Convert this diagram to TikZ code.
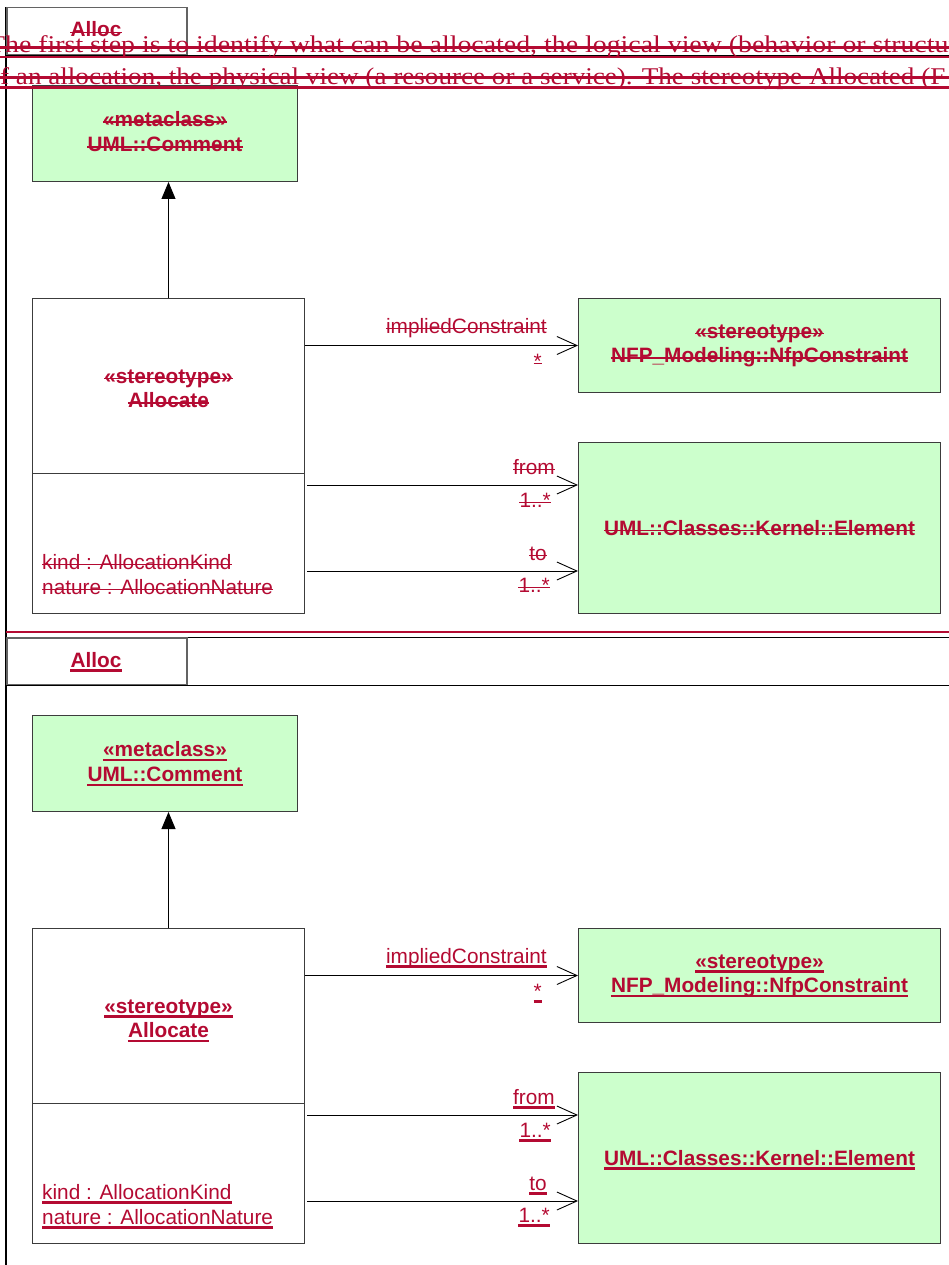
\documentclass[tikz,border=0pt]{standalone}
\usepackage{fontspec}
\setmainfont{Liberation Serif}
\setsansfont{Liberation Sans}
\newfontfamily\parafont{Liberation Serif}[FakeStretch=1.13]
\newfontfamily\parafontw{Liberation Serif}[FakeStretch=1.16]
\usetikzlibrary{arrows.meta,calc}
\definecolor{trk}{RGB}{180,10,50}
\definecolor{umlg}{RGB}{204,255,204}
\definecolor{bgray}{RGB}{60,60,60}
\newcommand\dfont{\sffamily\fontsize{20.8}{25}\selectfont}
\begin{document}
\begin{tikzpicture}[x=1pt,y=-1pt,
  mkdel/.style={append after command={([yshift=4.5pt]\tikzlastnode.base west)
     edge[trk, line width=1.3pt] ([yshift=4.5pt]\tikzlastnode.base east)}},
  mkins/.style={append after command={([yshift=-3.5pt]\tikzlastnode.base west)
     edge[trk, line width=2.5pt] ([yshift=-3.5pt]\tikzlastnode.base east)}},
  box/.style={draw=bgray, line width=1pt, fill=umlg, inner sep=0pt, anchor=north west},
  cls/.style={box, fill=white},
  btxt/.style={inner sep=0pt, anchor=base, text=trk, font=\dfont\bfseries, trkmk},
  lbl/.style={inner sep=0pt, anchor=base east, text=trk, font=\dfont, trkmk},
  attr/.style={inner sep=0pt, anchor=base west, text=trk, font=\dfont, trkmk},
  tabbox/.style={draw=bgray!80, line width=1.5pt, inner sep=0pt, anchor=north west,
    minimum width=180pt, minimum height=47pt},
  assoc/.style={line width=0.9pt, -{Straight Barb[length=20pt,width=18pt,line width=0.9pt]}},
  gen/.style={line width=0.9pt, -{Triangle[length=17pt,width=14pt]}},
  para/.style={anchor=base west, inner sep=0pt, text=trk, font=\parafont\fontsize{24}{24}\selectfont},
  redline/.style={trk, line width=2.2pt}]
\useasboundingbox (0,0) rectangle (949,1265);
\fill[white] (0,0) rectangle (949,1265);
% left frame line
\draw[line width=2pt] (6,7) -- (6,1265);
% separator between sections
\draw[trk, line width=2.5pt] (6,632) -- (949,632);
\draw[line width=0.8pt] (6,637) -- (949,637);
\foreach \off/\pf in {0/t, 630/b}{
 \ifnum\off=0 \tikzset{trkmk/.style={mkdel}}\else\tikzset{trkmk/.style={mkins}}\fi
 \begin{scope}[shift={(0,\off)}]
  \node[tabbox] (\pf tab) at (6,7) {};
  \node[btxt] (\pf tabt) at (96,37) {Alloc};
  \coordinate (\pf fe) at (949,54);
  \draw[line width=1.6pt] (\pf tab.south west) -- (\pf tab.south west -| \pf fe);
  % metaclass
  \node[box, minimum width=265pt, minimum height=96pt] (\pf cmt) at (32,85) {};
  \node[btxt] (\pf cmt1) at ($(\pf cmt.center)+(0,-7)$) {«metaclass»\ };
  \node[btxt] (\pf cmt2) at ($(\pf cmt.center)+(0,18)$) {UML::Comment};
  % stereotype Allocate
  \node[cls, minimum width=272pt, minimum height=175pt] (\pf alc) at (32,298) {};
  \node[btxt] (\pf alc1) at ($(\pf alc.center)+(0,-3)$) {«stereotype»\ };
  \node[btxt] (\pf alc2) at ($(\pf alc.center)+(0,21.5)$) {Allocate};
  \node[cls, minimum width=272pt, minimum height=140pt] (\pf att) at (32,473) {};
  \node[attr] (\pf a1) at (42,569) {kind : AllocationKind\ };
  \node[attr] (\pf a2) at (42,594) {nature : AllocationNature};
  % NFP constraint
  \node[box, minimum width=362pt, minimum height=94pt] (\pf nfp) at (578,298) {};
  \node[btxt] (\pf nfp1) at ($(\pf nfp.center)+(0,-7.5)$) {«stereotype»\ };
  \node[btxt] (\pf nfp2) at ($(\pf nfp.center)+(0,17)$) {NFP\_Modeling::NfpConstraint};
  % Element
  \node[box, minimum width=362pt, minimum height=171pt] (\pf elm) at (578,442) {};
  \node[btxt] (\pf elm1) at ($(\pf elm.center)+(0,7)$) {UML::Classes::Kernel::Element};
  % connectors
  \draw[gen] (\pf alc.north) -- (\pf alc.north |- \pf cmt.south);
  \draw[assoc] (\pf nfp.west -| \pf alc.east) -- (\pf nfp.west);
  \coordinate (\pf fr) at (578,485);
  \coordinate (\pf to) at (578,571);
  \draw[assoc] ([xshift=2pt]\pf fr -| \pf att.east) -- (\pf fr);
  \draw[assoc] ([xshift=2pt]\pf to -| \pf att.east) -- (\pf to);
  \node[lbl] (\pf l1) at (547,333) {impliedConstraint};
  \node[lbl] (\pf l2) at (542,368) {*};
  \node[lbl] (\pf l3) at (555,474) {from};
  \node[lbl] (\pf l4) at (551,507) {1..*};
  \node[lbl] (\pf l5) at (547,560) {to};
  \node[lbl] (\pf l6) at (550,592) {1..*};
 \end{scope}
}
% overlaid paragraph (tracked change)
\node[para, font=\parafontw\fontsize{24}{24}\selectfont] (p1) at (-12,53)
  {The first step is to identify what can be allocated, the logical view (behavior or structur};
\node[para] (p2) at (0,85)
  {f an allocation, the physical view (a resource or a service). The stereotype Allocated (F};
\draw[redline] (0,47.5) -- (949,47.5);
\draw[redline] (0,57) -- (949,57);
\draw[redline] (0,77.5) -- (949,77.5);
\draw[redline] (0,87.5) -- (949,87.5);
\end{tikzpicture}
\end{document}
